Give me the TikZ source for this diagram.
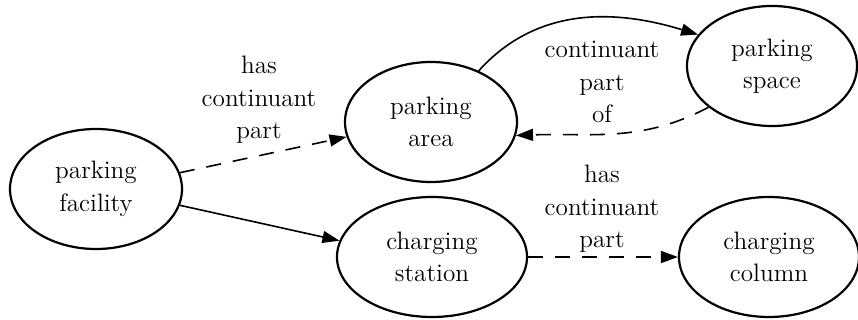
\documentclass[tikz,border=0pt]{standalone}
\usepackage{tikz}
\usetikzlibrary{shapes.geometric,arrows.meta}

\begin{document}
\begin{tikzpicture}[y=-0.5pt,x=0.5pt,
	font=\fontsize{12.6}{16.2}\selectfont,
	cls/.style={ellipse, draw, line width=1.1pt, inner sep=0pt, minimum height=60pt, align=center},
	lbl/.style={align=center, inner sep=0pt},
	rel/.style={line width=0.8pt, -{Triangle[length=8.5pt,width=6pt]}},
	haspart/.style={rel, dash pattern=on 7.5pt off 6pt}]
	\useasboundingbox (0,0) rectangle (858,320);

	\node[cls, minimum width=86pt] (fac) at (96,189) {parking\\facility};
	\node[cls, minimum width=86pt] (area) at (431,122) {parking\\area};
	\node[cls, minimum width=95pt] (station) at (432,257) {charging\\station};
	\node[cls, minimum width=85pt] (space) at (772,66) {parking\\space};
	\node[cls, minimum width=90pt] (column) at (769,257) {charging\\column};

	\node[lbl] (l1) at (259,100) {has\\continuant\\part};
	\node[lbl] (l2) at (602,82) {continuant\\part\\of};
	\node[lbl] (l3) at (602,209) {has\\continuant\\part};

	\draw[haspart] (fac.11) -- (area.190);
	\draw[rel] (fac.-11) -- (station.170);
	\draw[rel] (area.47) to[out=48,in=163] (space.157);
	\draw[haspart] (space.213) to[out=208,in=2] (area.-9);
	\draw[haspart] (station.east) -- (column.west);
\end{tikzpicture}
\end{document}
